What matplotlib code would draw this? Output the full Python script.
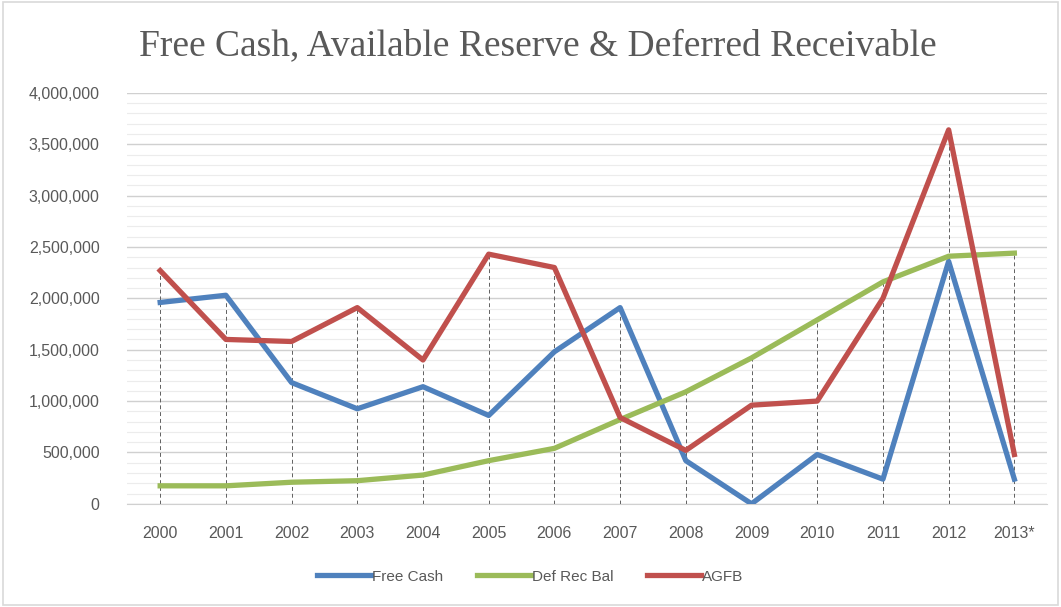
import matplotlib.pyplot as plt
from matplotlib.ticker import MultipleLocator, FuncFormatter
from matplotlib.patches import Rectangle

years = ['2000', '2001', '2002', '2003', '2004', '2005', '2006',
         '2007', '2008', '2009', '2010', '2011', '2012', '2013*']
free_cash = [1960000, 2030000, 1180000, 925000, 1140000, 860000, 1480000,
             1910000, 420000, 0, 480000, 240000, 2360000, 240000]
def_rec_bal = [175000, 175000, 210000, 225000, 280000, 420000, 540000,
               820000, 1090000, 1420000, 1790000, 2160000, 2410000, 2440000]
agfb = [2270000, 1600000, 1580000, 1910000, 1400000, 2430000, 2300000,
        840000, 520000, 960000, 1000000, 2000000, 3640000, 480000]

fig = plt.figure(figsize=(10.61, 6.07), dpi=100)
ax = fig.add_axes([0.12, 0.17, 0.867, 0.677])

x = range(len(years))

# drop lines from the highest point down to the axis
for i in x:
    top = max(free_cash[i], def_rec_bal[i], agfb[i])
    ax.plot([i, i], [0, top], color='#606060', lw=0.7, ls=(0, (4, 3)), zorder=2)

ax.plot(x, free_cash, color='#4f81bd', lw=3.8, label='Free Cash', zorder=3)
ax.plot(x, def_rec_bal, color='#9bbb59', lw=3.8, label='Def Rec Bal', zorder=4)
ax.plot(x, agfb, color='#c0504d', lw=3.8, label='AGFB', zorder=5)

ax.set_xlim(-0.5, len(years) - 0.5)
ax.set_ylim(0, 4000000)
ax.yaxis.set_major_locator(MultipleLocator(500000))
ax.yaxis.set_minor_locator(MultipleLocator(100000))
ax.yaxis.set_major_formatter(FuncFormatter(lambda v, p: '{:,.0f}'.format(v)))
ax.grid(axis='y', which='major', color='#d0d0d0', lw=1.0, zorder=0)
ax.grid(axis='y', which='minor', color='#ececec', lw=0.8, zorder=0)
ax.set_axisbelow(True)

ax.set_xticks(list(x))
ax.set_xticklabels(years)
for s in ax.spines.values():
    s.set_visible(False)
ax.spines['bottom'].set_visible(True)
ax.spines['bottom'].set_color('#d0d0d0')
ax.tick_params(which='both', length=0)
ax.tick_params(axis='y', pad=20)
ax.tick_params(axis='x', pad=16)
for lab in ax.get_xticklabels() + ax.get_yticklabels():
    lab.set_fontfamily('Liberation Sans')
    lab.set_fontsize(11.5)
    lab.set_color('#595959')

fig.text(0.507, 0.925, 'Free Cash, Available Reserve & Deferred Receivable',
         ha='center', va='center', fontsize=27, color='#595959',
         family='Liberation Serif')

leg = fig.legend(loc='center', bbox_to_anchor=(0.5, 0.05), ncol=3, frameon=False,
                 handlelength=3.5, handletextpad=0.1, columnspacing=2.2,
                 prop={'family': 'Liberation Sans', 'size': 11})
for t in leg.get_texts():
    t.set_color('#595959')

fig.patches.append(Rectangle((0.003, 0.003), 0.994, 0.994, transform=fig.transFigure,
                             fill=False, edgecolor='#d9d9d9', lw=1.2))

fig.savefig('out.png', dpi=100)
